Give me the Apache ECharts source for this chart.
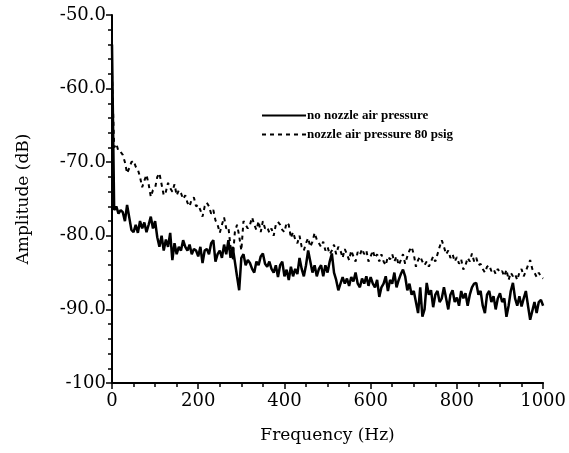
<!DOCTYPE html>
<html>
<head>
<meta charset="utf-8">
<script src="https://cdn.jsdelivr.net/npm/echarts@6/dist/echarts.min.js"></script>
<style>html,body{margin:0;padding:0;background:#fff}#c{width:569px;height:453px}</style>
</head>
<body>
<div id="c"></div>
<script>
// Frequency (Hz): 0 to 1000 in 5 Hz steps
var freq = [];
for (var f = 0; f <= 1000; f += 5) freq.push(f);

var noNozzle = [
-54,-76.5,-76,-77,-76.5,-76.8,-78,-75.8,-77.5,-79.2,
-79.5,-78.5,-79.6,-78,-79,-78.2,-79.5,-78.5,-77.4,-79,
-78,-80.2,-81.5,-80,-82,-80.5,-81.5,-79.6,-83.3,-81,
-82.5,-81.5,-82,-80.6,-81.5,-82,-81.2,-82.5,-81.8,-82,
-82.8,-81.5,-83.7,-82,-81.8,-82.5,-81,-80.6,-83.5,-82.5,
-82,-83,-81.2,-82.5,-80.6,-83,-81.5,-83.5,-85.5,-87.4,
-83,-82.5,-84,-83.3,-83.7,-84.5,-85,-83.5,-84,-82.8,
-82.4,-83.8,-84.2,-83.5,-84.5,-85,-84,-85.6,-84,-83.5,
-85.5,-84.6,-86,-84.2,-85.5,-84.5,-85.2,-83,-84.5,-85.5,
-84,-82,-83.5,-85,-84,-85.5,-84.5,-84,-85.5,-84,
-85,-83.5,-82.4,-85,-86,-87.4,-86.5,-85.6,-86.5,-85.8,
-86.8,-85.6,-86.2,-85,-86.5,-87,-85.8,-86.5,-85.5,-86.8,
-85.6,-86.5,-87,-86,-88.3,-87,-86.5,-85.5,-87.5,-86,
-86.5,-85,-87,-86,-85.2,-84.6,-85.5,-87.4,-86.5,-88,
-87.5,-89,-90.5,-87,-91,-90,-86.4,-88,-87.4,-89.7,
-88,-87.5,-89,-88.5,-87,-88.5,-90,-88,-87.4,-89,
-88.4,-89.5,-87.5,-88.5,-87.8,-89.5,-88,-87,-86.5,-86.4,
-88,-87.5,-89.5,-90.5,-88,-87.5,-89,-88.2,-90,-88.5,
-87.8,-89,-88.5,-91,-89.5,-87.5,-86.4,-88.5,-89.5,-88.2,
-89.6,-88.5,-87.5,-89.5,-91.4,-90.2,-89,-90.5,-89,-88.7,
-89.5
];

var nozzle80 = [
-58,-68,-67.5,-68.5,-68.6,-69,-70,-71.5,-70.8,-70,
-69.8,-70.6,-71,-72,-73.4,-72.5,-71.7,-73,-74.7,-73.8,
-73.5,-72,-71.5,-73,-74.5,-74,-72.8,-73.5,-74,-73,
-74.5,-73.8,-74.2,-75,-74.5,-75.5,-76,-75,-74.8,-76,
-75.8,-76.5,-77.4,-76,-75.5,-76,-77,-76.5,-77.9,-78.5,
-79.6,-78.5,-77.5,-79,-78.8,-81.5,-83.3,-79.5,-78.5,-80,
-82,-78,-78.5,-79,-78.5,-77.5,-78.5,-79.2,-78,-79.5,
-78,-79,-78.8,-79.6,-79,-80,-78.5,-78.1,-78.5,-79.2,
-79.5,-78.2,-78.5,-80.3,-79.5,-80.5,-81,-80,-81.5,-82,
-81,-80.3,-81.5,-80.8,-79.6,-80.5,-81,-81.5,-80.8,-82,
-81.5,-82.5,-82,-81.2,-82.5,-81.5,-82,-83,-81.8,-82.5,
-83.3,-82,-82.8,-83.5,-82.2,-82.6,-81.8,-82.5,-82,-83.5,
-82.8,-82,-83,-82.5,-83.5,-82.5,-83.5,-84,-82.8,-83.2,
-82.5,-83.5,-82.8,-84,-83.3,-82.5,-83.8,-82.8,-82,-81.5,
-82.5,-84.2,-83.3,-82.8,-83.5,-84,-83.5,-84.2,-83.5,-82.8,
-83.5,-82.5,-81.5,-80.6,-81.5,-82.5,-82,-83,-82.5,-83.5,
-82.9,-83.8,-83.2,-84.6,-84,-83,-83.5,-82.4,-83.5,-83,
-84,-83.8,-84.5,-85,-84.2,-84,-84.8,-84.5,-85.2,-84.5,
-85,-84.8,-85.5,-84.6,-86,-85,-85.5,-85.2,-86,-85,
-84.5,-85.5,-84.8,-84,-83.3,-84.5,-85,-85.6,-85,-85.6,
-85.8
];

var yTickLabels = {'-50': '-50.0', '-60': '-60.0', '-70': '-70.0', '-80': '-80.0', '-90': '-90.0', '-100': '-100'};

function pairs(xs, ys) { return xs.map(function (x, i) { return [x, ys[i]]; }); }

var serif = 'DejaVu Serif';
var chart = echarts.init(document.getElementById('c'));
chart.setOption({
  animation: false,
  backgroundColor: '#fff',
  grid: { left: 112, right: 24, top: 15, bottom: 70 },
  legend: {
    orient: 'vertical',
    left: 256,
    top: 104,
    itemWidth: 44,
    itemHeight: 10,
    itemGap: 6,
    itemStyle: { opacity: 0 },
    textStyle: { fontFamily: 'Liberation Serif', fontWeight: 'bold', fontSize: 13, color: '#000', padding: [0, 0, 0, -4] },
    data: ['no nozzle air pressure', 'nozzle air pressure 80 psig']
  },
  xAxis: {
    type: 'value', min: 0, max: 1000, interval: 200,
    name: 'Frequency (Hz)', nameLocation: 'middle', nameGap: 44,
    nameTextStyle: { fontFamily: serif, fontSize: 17, color: '#000' },
    axisLine: { lineStyle: { color: '#000', width: 2 } },
    axisTick: { length: 6, lineStyle: { color: '#000', width: 1.5 } },
    minorTick: { show: true, splitNumber: 4, length: 4, lineStyle: { color: '#000', width: 1.5 } },
    axisLabel: { fontFamily: serif, fontSize: 18, color: '#000', margin: 9,
      formatter: function (v) { return String(v); } },
    splitLine: { show: false }
  },
  yAxis: {
    type: 'value', min: -100, max: -50, interval: 10,
    name: 'Amplitude (dB)', nameLocation: 'middle', nameGap: 80,
    nameTextStyle: { fontFamily: serif, fontSize: 17, color: '#000' },
    axisLine: { show: true, lineStyle: { color: '#000', width: 2 } },
    axisTick: { show: true, length: 6, lineStyle: { color: '#000', width: 1.5 } },
    minorTick: { show: true, splitNumber: 5, length: 4, lineStyle: { color: '#000', width: 1.5 } },
    axisLabel: { fontFamily: serif, fontSize: 18, color: '#000', margin: 6,
      formatter: function (v) { return yTickLabels[String(v)] || ''; } },
    splitLine: { show: false }
  },
  series: [
    {
      name: 'no nozzle air pressure', type: 'line', showSymbol: false, symbol: 'none',
      data: pairs(freq, noNozzle),
      lineStyle: { color: '#000', width: 2.5, type: 'solid' },
      itemStyle: { color: '#000' }
    },
    {
      name: 'nozzle air pressure 80 psig', type: 'line', showSymbol: false, symbol: 'none',
      data: pairs(freq, nozzle80),
      lineStyle: { color: '#000', width: 2, type: [4, 4] },
      itemStyle: { color: '#000' }
    }
  ]
});
</script>
</body>
</html>
